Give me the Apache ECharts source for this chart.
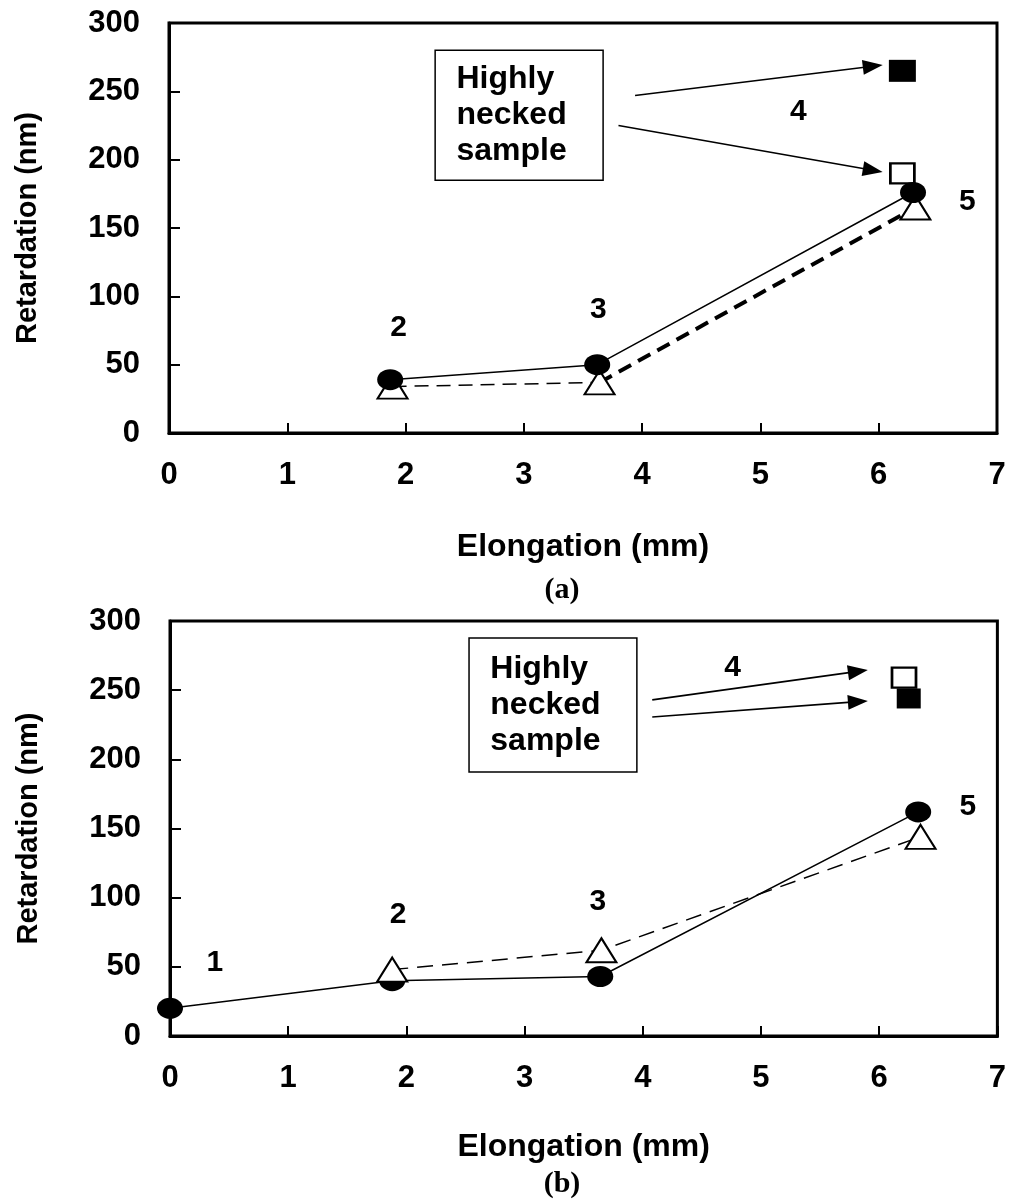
<!DOCTYPE html>
<html>
<head>
<meta charset="utf-8">
<script src="https://cdn.jsdelivr.net/npm/echarts@6/dist/echarts.min.js"></script>
<style>
  html, body { margin: 0; padding: 0; background: #fff; }
  #chart { width: 1009px; height: 1203px; }
</style>
</head>
<body>
<div id="chart"></div>
<script>
// ---- Panel (a) ----
const elongCircleA = [1.87, 3.62, 6.29];
const retCircleA   = [39, 50, 176];
const elongTriA    = [1.89, 3.64, 6.31];
const retTriA      = [34, 37, 165];
const elongOpenSqA = [6.2];
const retOpenSqA   = [190];
const elongFillSqA = [6.2];
const retFillSqA   = [265];
const sampleTagsA  = ['2', '3', '4', '5'];
const tagPosA      = [[1.94, 77], [3.63, 90], [5.32, 235], [6.75, 169]];
const arrowsA      = [[[3.94, 247], [5.95, 268.4]], [[3.80, 225], [5.95, 192.2]]];
const boxA         = [[2.25, 280], [3.67, 185]];

// ---- Panel (b) ----
const elongCircleB = [0, 1.88, 3.64, 6.33];
const retCircleB   = [20, 40, 43, 162];
const elongTriB    = [1.88, 3.65, 6.35];
const retTriB      = [48, 62, 144];
const elongOpenSqB = [6.21];
const retOpenSqB   = [259];
const elongFillSqB = [6.25];
const retFillSqB   = [244];
const sampleTagsB  = ['1', '2', '3', '4', '5'];
const tagPosB      = [[0.38, 53], [1.93, 87.5], [3.62, 97], [4.76, 266], [6.75, 165.5]];
const arrowsB      = [[[4.08, 243], [5.82, 263.6]], [[4.08, 230.6], [5.82, 241.7]]];
const boxB         = [[2.53, 287.7], [3.95, 190.8]];

// ---- Axes ----
const xTicks = [0, 1, 2, 3, 4, 5, 6, 7];
const yTicks = [0, 50, 100, 150, 200, 250, 300];
const boxText = 'Highly\nnecked\nsample';

const SANS = '"Liberation Sans", Arial, sans-serif';
const zip = (xs, ys) => xs.map((x, i) => [x, ys[i]]);

function xAxisFor(idx, gap) {
  return {
    gridIndex: idx, type: 'value',
    min: xTicks[0], max: xTicks[xTicks.length - 1], interval: xTicks[1] - xTicks[0],
    name: 'Elongation (mm)', nameLocation: 'middle', nameGap: gap,
    nameTextStyle: { fontSize: 32, fontWeight: 'bold', color: '#000', fontFamily: SANS },
    axisLine: { show: true, lineStyle: { color: '#000', width: 3 } },
    axisTick: { show: true, inside: true, length: 10, lineStyle: { color: '#000', width: 2 } },
    axisLabel: { fontSize: 31, fontWeight: 'bold', color: '#000', margin: 27, fontFamily: SANS },
    splitLine: { show: false }
  };
}

function yAxisFor(idx) {
  return {
    gridIndex: idx, type: 'value',
    min: yTicks[0], max: yTicks[yTicks.length - 1], interval: yTicks[1] - yTicks[0],
    name: 'Retardation (nm)', nameLocation: 'middle', nameGap: 127,
    nameTextStyle: { fontSize: 29, fontWeight: 'bold', color: '#000', fontFamily: SANS },
    axisLine: { show: true, lineStyle: { color: '#000', width: 3 } },
    axisTick: { show: true, inside: true, length: 11, lineStyle: { color: '#000', width: 2 } },
    axisLabel: { fontSize: 31, fontWeight: 'bold', color: '#000', margin: 29, fontFamily: SANS },
    splitLine: { show: false }
  };
}

// Text box plus the two arrows pointing from it to the necked-sample squares
function annotations(idx, box, arrows) {
  return {
    type: 'scatter', xAxisIndex: idx, yAxisIndex: idx, data: [], z: 1,
    markArea: {
      silent: true,
      itemStyle: { color: '#fff', borderColor: '#000', borderWidth: 1.5, opacity: 1 },
      label: {
        show: true, position: 'insideLeft', distance: 22,
        fontSize: 32, fontWeight: 'bold', lineHeight: 36, color: '#000', fontFamily: SANS
      },
      data: [[{ coord: box[0], name: boxText }, { coord: box[1] }]]
    },
    markLine: {
      silent: true, symbol: ['none', 'triangle'], symbolSize: [15, 20],
      itemStyle: { color: '#000' },
      lineStyle: { color: '#000', width: 1.6, type: 'solid', opacity: 1 },
      label: { show: false },
      data: arrows.map(a => [{ coord: a[0] }, { coord: a[1] }])
    }
  };
}

// Sample numbers written next to the points
function tags(idx, pos, names) {
  return {
    type: 'scatter', xAxisIndex: idx, yAxisIndex: idx, z: 10,
    symbolSize: 1, itemStyle: { color: 'transparent', opacity: 1 },
    label: {
      show: true, position: 'inside', formatter: p => p.value[2],
      fontSize: 30, fontWeight: 'bold', color: '#000', fontFamily: SANS
    },
    data: pos.map((p, i) => [p[0], p[1], names[i]])
  };
}

const openTri = { color: '#fff', borderColor: '#000', borderWidth: 2, opacity: 1 };
const openSq  = { color: '#fff', borderColor: '#000', borderWidth: 2.5, opacity: 1 };
const solid   = { color: '#000', opacity: 1 };

const series = [
  // panel (a): triangles joined by dashes, the last leg heavier
  { type: 'line', xAxisIndex: 0, yAxisIndex: 0, symbol: 'none', z: 2,
    lineStyle: { color: '#000', width: 1.5, type: [14, 8] },
    data: zip(elongTriA, retTriA).slice(0, 2) },
  { type: 'line', xAxisIndex: 0, yAxisIndex: 0, symbol: 'none', z: 2,
    lineStyle: { color: '#000', width: 4, type: [14, 8] },
    data: zip(elongTriA, retTriA).slice(1) },
  { type: 'scatter', xAxisIndex: 0, yAxisIndex: 0, symbol: 'triangle', symbolSize: [30, 24], z: 3,
    itemStyle: openTri, data: zip(elongTriA, retTriA) },
  { type: 'line', xAxisIndex: 0, yAxisIndex: 0, symbol: 'circle', symbolSize: [26, 21], z: 4,
    showAllSymbol: true, itemStyle: solid,
    lineStyle: { color: '#000', width: 1.5 }, data: zip(elongCircleA, retCircleA) },
  { type: 'scatter', xAxisIndex: 0, yAxisIndex: 0, symbol: 'rect', symbolSize: [24, 20], z: 3,
    itemStyle: openSq, data: zip(elongOpenSqA, retOpenSqA) },
  { type: 'scatter', xAxisIndex: 0, yAxisIndex: 0, symbol: 'rect', symbolSize: [27, 22], z: 3,
    itemStyle: solid, data: zip(elongFillSqA, retFillSqA) },
  annotations(0, boxA, arrowsA),
  tags(0, tagPosA, sampleTagsA),

  // panel (b)
  { type: 'line', xAxisIndex: 1, yAxisIndex: 1, symbol: 'circle', symbolSize: [26, 21], z: 3,
    showAllSymbol: true, itemStyle: solid,
    lineStyle: { color: '#000', width: 1.5 }, data: zip(elongCircleB, retCircleB) },
  { type: 'line', xAxisIndex: 1, yAxisIndex: 1, symbol: 'none', z: 2,
    lineStyle: { color: '#000', width: 1.5, type: [16, 9] },
    data: zip(elongTriB, retTriB) },
  { type: 'scatter', xAxisIndex: 1, yAxisIndex: 1, symbol: 'triangle', symbolSize: [30, 24], z: 4,
    itemStyle: openTri, data: zip(elongTriB, retTriB) },
  { type: 'scatter', xAxisIndex: 1, yAxisIndex: 1, symbol: 'rect', symbolSize: [24, 20], z: 3,
    itemStyle: openSq, data: zip(elongOpenSqB, retOpenSqB) },
  { type: 'scatter', xAxisIndex: 1, yAxisIndex: 1, symbol: 'rect', symbolSize: [24, 20], z: 4,
    itemStyle: solid, data: zip(elongFillSqB, retFillSqB) },
  annotations(1, boxB, arrowsB),
  tags(1, tagPosB, sampleTagsB)
];

const chart = echarts.init(document.getElementById('chart'), null, { renderer: 'canvas' });
chart.setOption({
  backgroundColor: '#fff',
  animation: false,
  grid: [
    { left: 169, top: 23, width: 828, height: 410, show: true, borderColor: '#000', borderWidth: 3, backgroundColor: 'transparent' },
    { left: 170, top: 621, width: 828, height: 415, show: true, borderColor: '#000', borderWidth: 3, backgroundColor: 'transparent' }
  ],
  xAxis: [xAxisFor(0, 98), xAxisFor(1, 95)],
  yAxis: [yAxisFor(0), yAxisFor(1)],
  series: series,
  graphic: [
    { type: 'text', x: 562, y: 590,
      style: { text: '(a)', font: 'bold 30px "Liberation Serif", "Times New Roman", serif', fill: '#000', align: 'center', verticalAlign: 'middle' } },
    { type: 'text', x: 562, y: 1184,
      style: { text: '(b)', font: 'bold 30px "Liberation Serif", "Times New Roman", serif', fill: '#000', align: 'center', verticalAlign: 'middle' } }
  ]
});
</script>
</body>
</html>
